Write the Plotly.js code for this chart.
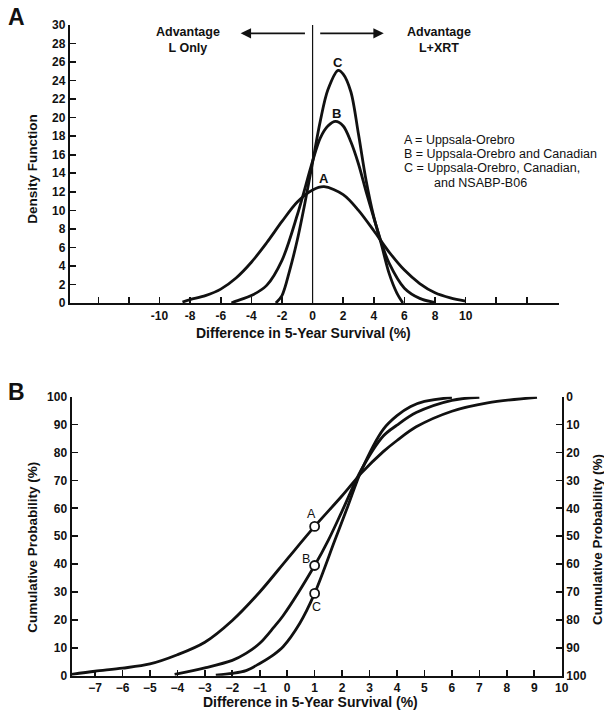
<!DOCTYPE html>
<html>
<head>
<meta charset="utf-8">
<script src="https://cdn.plot.ly/plotly-3.0.1.min.js"></script>
<style>html,body{margin:0;padding:0;background:#fff;}#chart{width:604px;height:713px;}</style>
</head>
<body>
<div id="chart"></div>
<script>
// ---- Panel A: density functions ----
var densX_A = [-8.5,-8,-7,-6,-5,-4,-3,-2,-1,0,0.75,2,3,4,5,6,7,8,9,10];
var densY_A = [0.1,0.37,0.8,1.5,2.7,4.4,6.5,8.8,10.9,12.2,12.55,11.7,10.0,7.8,5.5,3.55,2.1,1.1,0.55,0.2];
var densX_B = [-5.3,-5,-4,-3,-2,-1,0,0.5,1,1.5,2,2.5,3,3.5,4,4.5,5,6,7,8];
var densY_B = [0,0.2,0.8,1.9,4.6,9.5,15.3,17.8,19.1,19.6,19.1,17.4,15.0,12.0,9.2,6.5,4.3,1.6,0.5,0.05];
var densX_C = [-2.4,-2,-1.5,-1,-0.5,0,0.5,1,1.67,2,2.5,3,3.5,4,4.5,5,5.5,5.9];
var densY_C = [0,0.8,3.5,6.8,10.8,15.2,19.6,23.0,25.1,24.7,22.8,18.2,13.2,9.3,6.3,3.2,1.1,0];
var tickValsA = [-14,-12,-10,-8,-6,-4,-2,0,2,4,6,8,10,12,14];
var tickTextA = ['','','-10','-8','-6','-4','-2','0','2','4','6','8','10','',''];
var legendLines = ['A = Uppsala-Orebro','B = Uppsala-Orebro and Canadian','C = Uppsala-Orebro, Canadian,','and NSABP-B06'];

// ---- Panel B: cumulative probability ----
var cumX_A = [-7.85,-7,-6,-5,-4,-3,-2,-1,0,1,2,2.7,3.5,4,4.7,6,7.3,9.1];
var cumY_A = [0.5,1.6,2.7,4.2,7.5,12,19.8,30,41.8,53.5,64.5,72.6,80.3,84.3,89.2,94.8,97.8,99.8];
var cumX_B = [-4.1,-3,-2,-1.5,-1,-0.5,-0.15,1,1.5,2,2.7,3.5,4,4.7,6,7];
var cumY_B = [0.5,2.8,5.5,8,11.6,17.2,21.5,39.5,48.6,59,73.8,85.9,89.8,94.3,98.7,99.8];
var cumX_C = [-2.6,-2,-1.5,-1,-0.5,-0.15,0.46,1,1.74,2.2,2.7,3.5,4,4.5,5,6];
var cumY_C = [0.2,0.8,1.8,4.4,7.5,10.4,18.8,29.5,48.6,60.5,73.5,88.3,93.2,96.5,98.3,99.8];
var markX = [1,1,1];
var markY = [53.5,39.5,29.5];
var tickValsB = [-7,-6,-5,-4,-3,-2,-1,0,1,2,3,4,5,6,7,8,9,10];

var FONT = 'Liberation Sans, Arial, Helvetica, sans-serif';
var W = 604, H = 713;
function px(x){return x/W;}
function py(y){return 1-y/H;}

function curve(x,y,xa,ya){
  return {x:x,y:y,xaxis:xa,yaxis:ya,type:'scatter',mode:'lines',
    line:{color:'#111',width:2.8,shape:'spline',smoothing:0.9},hoverinfo:'skip'};
}
var traces = [
  curve(densX_A,densY_A,'x','y'),
  curve(densX_B,densY_B,'x','y'),
  curve(densX_C,densY_C,'x','y'),
  curve(cumX_A,cumY_A,'x2','y2'),
  curve(cumX_B,cumY_B,'x2','y2'),
  curve(cumX_C,cumY_C,'x2','y2'),
  {x:markX,y:markY,xaxis:'x2',yaxis:'y2',type:'scatter',mode:'markers',
   marker:{symbol:'circle',size:9,color:'#fff',line:{color:'#111',width:1.8}},hoverinfo:'skip'},
  {x:[0],y:[0],xaxis:'x2',yaxis:'y3',type:'scatter',mode:'markers',marker:{opacity:0},hoverinfo:'skip'}
];

var tickF = {family:FONT,size:12,color:'#111',weight:'bold'};
var baseAx = {showline:true,linecolor:'#111',linewidth:2.2,ticks:'inside',ticklen:6,tickwidth:1.6,
  tickcolor:'#111',showgrid:false,zeroline:false,tickfont:tickF,fixedrange:true};

var layout = {
  width:W,height:H,margin:{l:0,r:0,t:0,b:0},paper_bgcolor:'#fff',plot_bgcolor:'rgba(0,0,0,0)',
  showlegend:false,
  xaxis:Object.assign({},baseAx,{domain:[px(70),px(559)],range:[-15.85,16.1],anchor:'y',
    tickmode:'array',tickvals:tickValsA,ticktext:tickTextA}),
  yaxis:Object.assign({},baseAx,{domain:[py(303),py(25)],range:[0,30],anchor:'x',dtick:2,tick0:0}),
  xaxis2:Object.assign({},baseAx,{domain:[px(71.7),px(561.7)],range:[-7.85,10],anchor:'y2',
    tickmode:'array',tickvals:tickValsB}),
  yaxis2:Object.assign({},baseAx,{domain:[py(675.7),py(396.7)],range:[0,100],anchor:'x2',dtick:10,tick0:0}),
  yaxis3:Object.assign({},baseAx,{overlaying:'y2',side:'right',anchor:'x2',range:[100,0],dtick:10,tick0:0}),
  shapes:[
    {type:'line',xref:'x',yref:'y',x0:0,x1:0,y0:0,y1:30,line:{color:'#111',width:1.2}}
  ],
  annotations:[]
};
var ann = layout.annotations;
function txt(t,x,y,opt){
  ann.push(Object.assign({text:t,x:px(x),y:py(y),xref:'paper',yref:'paper',showarrow:false,
    xanchor:'center',yanchor:'middle',font:{family:FONT,size:14,color:'#111',weight:'bold'}},opt||{}));
}
// panel letters
txt('A',16,17,{font:{family:FONT,size:23,color:'#111',weight:'bold'}});
txt('B',16,392,{font:{family:FONT,size:23,color:'#111',weight:'bold'}});
// axis titles
txt('Density Function',31.7,169,{textangle:-90,font:{family:FONT,size:13.5,color:'#111',weight:'bold'}});
txt('Difference in 5-Year Survival (%)',303,333);
txt('Cumulative Probability (%)',31.7,547,{textangle:-90,font:{family:FONT,size:13.5,color:'#111',weight:'bold'}});
txt('Cumulative Probability (%)',597,540,{textangle:-90,font:{family:FONT,size:13.5,color:'#111',weight:'bold'}});
txt('Difference in 5-Year Survival (%)',310,702);
// advantage texts
txt('Advantage<br>L Only',188,40,{font:{family:FONT,size:12.5,color:'#111',weight:'bold'}});
txt('Advantage<br>L+XRT',439.3,40,{font:{family:FONT,size:12.5,color:'#111',weight:'bold'}});
// legend
var legY = [140,154.3,168.3,182.7];
var legXs = [402.3,402.3,402.3,431.7];
for (var i=0;i<legendLines.length;i++){
  txt(legendLines[i],legXs[i],legY[i],{xanchor:'left',font:{family:FONT,size:12.5,color:'#111'}});
}
// arrows
ann.push({x:-4.7,y:29.1,ax:-0.4,ay:29.1,xref:'x',yref:'y',axref:'x',ayref:'y',text:'',
  showarrow:true,arrowhead:2,arrowsize:1.3,arrowwidth:1.6,arrowcolor:'#111'});
ann.push({x:4.65,y:29.1,ax:0.4,ay:29.1,xref:'x',yref:'y',axref:'x',ayref:'y',text:'',
  showarrow:true,arrowhead:2,arrowsize:1.3,arrowwidth:1.6,arrowcolor:'#111'});
// curve labels
function dl(t,x,y,xr,yr,sz,w){
  ann.push({text:t,x:x,y:y,xref:xr,yref:yr,showarrow:false,xanchor:'center',yanchor:'middle',
    font:{family:FONT,size:sz,color:'#111',weight:w}});
}
dl('C',1.67,26.0,'x','y',13,'bold');
dl('B',1.53,20.5,'x','y',13,'bold');
dl('A',0.72,13.4,'x','y',13,'bold');
dl('A',0.89,57.9,'x2','y2',12.5,'normal');
dl('B',0.68,41.7,'x2','y2',12.5,'normal');
dl('C',1.05,24.7,'x2','y2',12.5,'normal');

Plotly.newPlot('chart',traces,layout,{staticPlot:true,displayModeBar:false});
</script>
</body>
</html>
